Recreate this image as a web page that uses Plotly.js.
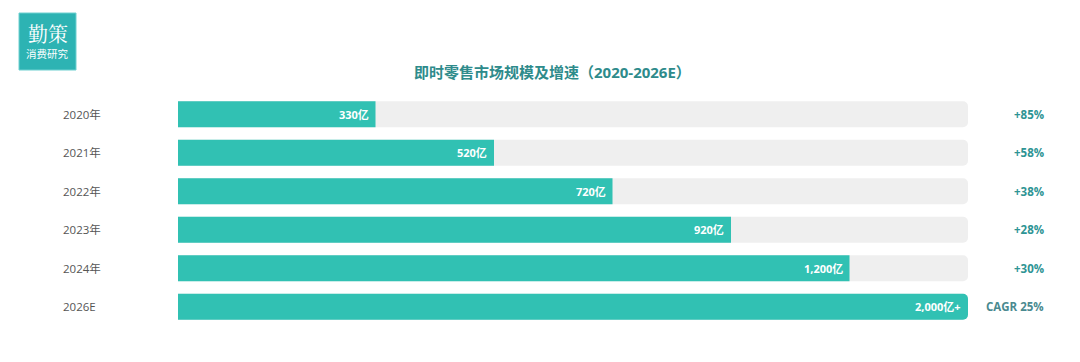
<!DOCTYPE html>
<html>
<head>
<meta charset="utf-8">
<script src="https://cdn.plot.ly/plotly-3.0.1.min.js"></script>
<style>html,body{margin:0;padding:0;background:#fff;}#chart{width:1080px;height:362px;}</style>
</head>
<body>
<div id="chart"></div>
<script>
const categories = ['2020年','2021年','2022年','2023年','2024年','2026E'];
const barWidths = [25, 40, 55, 70, 85, 100];
const valueLabels = ['330亿','520亿','720亿','920亿','1,200亿','2,000亿+'];
const growthLabels = ['+85%','+58%','+38%','+28%','+30%','CAGR 25%'];
const trackMax = [100, 100, 100, 100, 100, 100];

const font = '"Open Sans", "Noto Sans CJK SC", sans-serif';
const cjk = '"Noto Sans CJK SC", sans-serif';
const teal = '#31c1b3';

const traces = [
  {type:'bar', orientation:'h', y:categories, x:trackMax, marker:{color:'#efefef', cornerradius:5},
   hoverinfo:'skip', showlegend:false},
  {type:'bar', orientation:'h', y:categories, x:barWidths, marker:{color:teal, cornerradius:5},
   hoverinfo:'skip', showlegend:false}
];

const annotations = [];
categories.forEach((c, i) => {
  annotations.push({xref:'paper', yref:'y', x:-0.148, y:c, text:c, showarrow:false, xanchor:'left',
    font:{family:font, size:11.5, color:'#555'}});
  annotations.push({xref:'x', yref:'y', x:barWidths[i], y:c, text:'<b>'+valueLabels[i]+'</b>', showarrow:false,
    xanchor:'right', xshift:-5, font:{family:font, size:11, color:'#ffffff'}});
  annotations.push({xref:'paper', yref:'y', x:1.0985, y:c, text:'<b>'+growthLabels[i]+'</b>', showarrow:false,
    xanchor:'right', font:{family:font, size:11.5, color: i===5 ? '#4a8a90' : '#2e9494'}});
});
annotations.push({xref:'paper', yref:'paper', x:(552-178)/790, y:(362-72-36)/231, text:'<b>即时零售市场规模及增速（2020-2026E）</b>',
  showarrow:false, xanchor:'center', yanchor:'middle', font:{family:font, size:15, color:'#2e8b8b'}});
annotations.push({xref:'paper', yref:'paper', x:(47.5-178)/790, y:(362-34-36)/231, text:'勤策', showarrow:false,
  xanchor:'center', yanchor:'middle', font:{family:'"Noto Serif CJK SC", ' + cjk, size:20, color:'#ffffff'}});
annotations.push({xref:'paper', yref:'paper', x:(47.5-178)/790, y:(362-54-36)/231, text:'消费研究', showarrow:false,
  xanchor:'center', yanchor:'middle', font:{family:cjk, size:10.5, color:'#ffffff'}});

const shapes = [{type:'rect', xref:'paper', yref:'paper', x0:(19-178)/790, x1:(76-178)/790,
  y0:(362-70-36)/231, y1:(362-13-36)/231, fillcolor:'#2db3b3', line:{width:1, color:'#6fd0d0'}, layer:'above'}];

Plotly.newPlot('chart', traces, {
  width:1080, height:362,
  margin:{l:178, r:112, t:95, b:36},
  barmode:'overlay', bargap:0.33,
  paper_bgcolor:'#fff', plot_bgcolor:'#fff',
  xaxis:{range:[0,100], visible:false, fixedrange:true},
  yaxis:{autorange:'reversed', showticklabels:false, showgrid:false, zeroline:false, showline:false, ticks:''},
  annotations:annotations, shapes:shapes
}, {displayModeBar:false, staticPlot:true});
</script>
</body>
</html>
